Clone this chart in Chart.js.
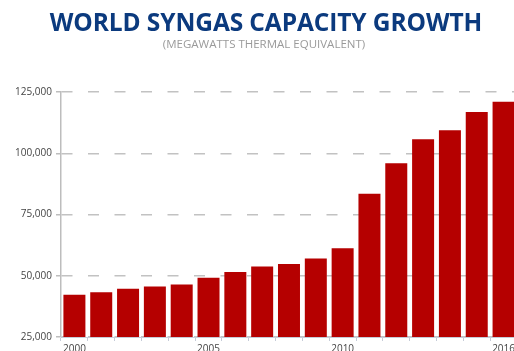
<!DOCTYPE html>
<html>
<head>
<meta charset="utf-8">
<script src="https://cdn.jsdelivr.net/npm/chart.js@4"></script>
<style>
    html, body { margin: 0; padding: 0; background: #fff; overflow: hidden; }
    #wrap { position: relative; width: 517px; height: 351px; }
    #title {
        position: absolute; left: 0; width: 532px; top: 5px; text-align: center;
        font-family: "Open Sans", sans-serif; font-weight: 700; font-size: 24.5px;
        color: #0b3a7e; letter-spacing: -0.1px; white-space: nowrap;
    }
    #subtitle {
        position: absolute; left: 0; width: 528px; top: 36px; text-align: center;
        font-family: "Open Sans", sans-serif; font-size: 11.5px; color: #9a9a9a; white-space: nowrap;
    }
</style>
</head>
<body>
<div id="wrap">
    <canvas id="myChart"></canvas>
    <div id="title">WORLD SYNGAS CAPACITY GROWTH</div>
    <div id="subtitle">(MEGAWATTS THERMAL EQUIVALENT)</div>
</div>
<script>
// === データ ===
const years = ['2000', '2001', '2002', '2003', '2004', '2005', '2006', '2007', '2008',
               '2009', '2010', '2011', '2012', '2013', '2014', '2015', '2016'];
const capacity = [42200, 43300, 44700, 45600, 46400, 49200, 51500, 53800, 54800,
                  57000, 61200, 83500, 95900, 105700, 109400, 116800, 121000];
const shownYears = ['2000', '2005', '2010', '2016']; // 表示する年ラベル
const yTicks = [25000, 50000, 75000, 100000, 125000];

const BAR_COLOR = '#b50000';
const GRID_COLOR = '#c2c2c2';
const TEXT_COLOR = '#444';

const ctx = document.getElementById('myChart').getContext('2d');
const myChart = new Chart(ctx, {
    type: 'bar',
    data: {
        labels: years,
        datasets: [{
            data: capacity,
            backgroundColor: BAR_COLOR,
            borderWidth: 0,
            barPercentage: 0.82,
            categoryPercentage: 1.0
        }]
    },
    options: {
        responsive: true,
        maintainAspectRatio: false,
        animation: false,
        layout: { padding: { top: 92, left: 0, right: 0, bottom: 0 } },
        plugins: {
            legend: { display: false },
            tooltip: { enabled: false }
        },
        scales: {
            x: {
                offset: true,
                grid: {
                    offset: true,
                    drawOnChartArea: false,
                    drawTicks: true,
                    tickLength: 4,
                    color: '#c6ccd8'
                },
                border: { display: true, color: '#c6ccd8', width: 1 },
                ticks: {
                    autoSkip: false,
                    maxRotation: 0,
                    padding: 2,
                    color: TEXT_COLOR,
                    font: { family: 'Open Sans', size: 10 },
                    callback: function(value) {
                        const label = this.getLabelForValue(value);
                        return shownYears.includes(label) ? label : '';
                    }
                },
                afterFit: (scale) => { scale.height = 14; }
            },
            y: {
                min: 25000,
                max: 125000,
                afterBuildTicks: (scale) => { scale.ticks = yTicks.map(v => ({ value: v })); },
                grid: {
                    color: GRID_COLOR,
                    lineWidth: 1.5,
                    drawTicks: true,
                    tickLength: 5,
                    tickColor: '#bdbdbd',
                    tickBorderDash: []
                },
                // v4: grid line dash is set on border
                border: { display: true, color: '#bdbdbd', width: 1.5, dash: [11, 15.5] },
                ticks: {
                    padding: 4,
                    color: TEXT_COLOR,
                    font: { family: 'Open Sans', size: 10 },
                    callback: (v) => v.toLocaleString('en-US')
                },
                afterFit: (scale) => { scale.width = 61; }
            }
        }
    }
});
</script>
</body>
</html>
